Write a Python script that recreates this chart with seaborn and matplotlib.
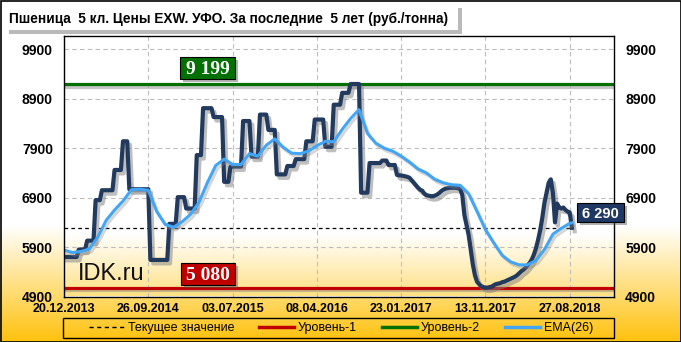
import numpy as np
import pandas as pd
import matplotlib
matplotlib.use("Agg")
import matplotlib.pyplot as plt
import matplotlib.patheffects as pe
from matplotlib.patches import Rectangle
from matplotlib.lines import Line2D
import seaborn as sns

# ---------------- data ----------------
tick_dates = ["20.12.2013", "26.09.2014", "03.07.2015", "08.04.2016",
              "23.01.2017", "13.11.2017", "27.08.2018"]
y_ticks = [4900, 5900, 6900, 7900, 8900, 9900]

price = [
    5700, 5700, 5700, 5700, 5700, 5700, 5700,
    5850, 5850, 5850, 5850, 6030, 6030, 6030, 6030,
    6850, 6850, 6850, 7050, 7050, 7050, 7050, 7050, 7050,
    7460, 7460, 7460, 7460, 8040, 8040, 8040,
    7070, 7070, 7070, 7070, 7070, 7070, 7070, 7070, 7070, 7070,
    5640, 5640, 5640, 5640, 5640, 5640, 5640, 5640, 5640,
    6370, 6370, 6370, 6370, 6910, 6910, 6910, 6910,
    6680, 6680, 6680, 6680, 6680, 7760, 7760, 7760,
    8710, 8710, 8710, 8710, 8710, 8530, 8530, 8530, 8530, 8530,
    7220, 7220, 7220, 7530, 7530, 7530, 7530, 7530, 7530,
    8450, 8450, 8450, 8450, 7730, 7730, 7730, 7730,
    8580, 8580, 8580, 8580, 8270, 8270, 8270, 8270,
    7370, 7370, 7370, 7370, 7370, 7540, 7540, 7540, 7540,
    7680, 7680, 7680, 7680, 7680, 8040, 8040, 8040, 8040,
    8480, 8480, 8480, 8480, 8480, 7930, 7930, 7930, 7930,
    8780, 8780, 8780, 8780, 9020, 9020, 9020, 9020,
    9199, 9199, 9199, 9199, 9199, 7000, 7000, 7000, 7000,
    7600, 7600, 7600, 7600, 7600, 7600, 7650, 7650, 7650, 7560, 7560, 7560, 7560,
    7360, 7350, 7350, 7340, 7330, 7320, 7300, 7250,
    7200, 7150, 7100, 7060, 7040,
    6980, 6950, 6940, 6930, 6930, 6940, 6960, 6990,
    7030, 7060, 7080, 7090, 7100, 7100, 7100, 7100, 7090, 7080,
    6950, 6550, 6350, 6150, 5850, 5550, 5330, 5200, 5150, 5110, 5090, 5080,
    5080, 5090, 5100, 5130, 5150, 5160, 5170, 5190, 5200, 5220,
    5240, 5260, 5280, 5300, 5330, 5370, 5410, 5440, 5480, 5530,
    5580, 5650, 5750, 5880, 6050, 6250, 6500, 6800, 7000, 7200,
    7270, 7000, 6400, 6780, 6700, 6680, 6700, 6650, 6620, 6600,
    6290,
]

ema_pos = list(range(0, 241, 4)) + [241]
ema = [
    5840, 5790, 5810, 5860, 6100, 6440, 6650, 6830, 7060, 7070,
    7050, 6620, 6360, 6300, 6410, 6560, 6800, 7200, 7550, 7680,
    7570, 7570, 7790, 7740, 7960, 8090, 7920, 7800, 7790, 7840,
    7950, 8040, 8030, 8280, 8500, 8680, 8200, 8000, 7900, 7840,
    7740, 7620, 7480, 7400, 7270, 7200, 7160, 7150, 6980, 6620,
    6250, 5980, 5730, 5600, 5540, 5540, 5630, 5850, 6160, 6280,
    6380, 6390,
]

level1 = 5080
level2 = 9199
current = 6290

title = "Пшеница  5 кл. Цены EXW. УФО. За последние  5 лет (руб./тонна)"
legend_labels = ["Текущее значение", "Уровень-1", "Уровень-2", "EMA(26)"]

# ---------------- figure ----------------
W, H = 681, 342
fig = plt.figure(figsize=(W / 100, H / 100), dpi=100)

SANS = ["Liberation Sans", "DejaVu Sans"]
SERIF = ["Liberation Serif", "DejaVu Serif"]

# figure background gradient (white -> orange at bottom)
bg = fig.add_axes([0, 0, 1, 1], zorder=-5)
bg.axis("off")
frac = np.linspace(1, 0, H)
t = np.clip((0.34 - frac) / 0.34, 0, 1)
white = np.array([1.0, 1.0, 1.0])
orange = np.array([1.0, 0.76, 0.05])
img = white[None, :] * (1 - t[:, None]) + orange[None, :] * t[:, None]
bg.imshow(img[:, None, :], aspect="auto", extent=[0, 1, 0, 1])
bg.set_xlim(0, 1)
bg.set_ylim(0, 1)

x0p, x1p, y0p, y1p = 64, 614, 36, 296.5
ax = fig.add_axes([x0p / W, 1 - y1p / H, (x1p - x0p) / W, (y1p - y0p) / H])

XMAX = 261
YMIN, YMAX = 4900, 10170

# plot-area gradient
vals = np.linspace(YMAX, YMIN, 300)
tt = np.clip((6150 - vals) / 1250, 0, 1)
low = np.array([1.0, 0.88, 0.52])
pimg = white[None, :] * (1 - tt[:, None]) + low[None, :] * tt[:, None]
ax.imshow(pimg[:, None, :], aspect="auto", extent=[0, XMAX, YMIN, YMAX], zorder=0)

ax.grid(True, color="#BDBDBD", linestyle=(0, (4, 3)), linewidth=0.8)
ax.set_axisbelow(True)

shadow = [pe.SimpleLineShadow(offset=(1.5, -2), shadow_color="#808080", alpha=0.45), pe.Normal()]

ax.axhline(level2, color="#007000", lw=2.3, zorder=3, path_effects=shadow)
ax.axhline(level1, color="#C00000", lw=2.3, zorder=3, path_effects=shadow)
ax.hlines(current, 0, len(price) - 1, colors="black", linestyles=(0, (3, 2.5)), lw=0.9, zorder=3)

df = pd.DataFrame({"idx": np.arange(len(price)), "price": price})
sns.lineplot(data=df, x="idx", y="price", ax=ax, color="#213A5E", linewidth=3.0,
             zorder=5, legend=False)
ax.lines[-1].set_path_effects([pe.SimpleLineShadow(offset=(2, -2.5), shadow_color="#7F7F7F", alpha=0.5),
                               pe.Normal()])
ax.lines[-1].set_solid_joinstyle("round")

dfe = pd.DataFrame({"idx": ema_pos, "ema": ema})
sns.lineplot(data=dfe, x="idx", y="ema", ax=ax, color="#42A5F5", linewidth=2.2,
             zorder=6, legend=False)
ax.lines[-1].set_path_effects([pe.SimpleLineShadow(offset=(1.5, -2), shadow_color="#8A8A8A", alpha=0.35),
                               pe.Normal()])

ax.set_xlim(0, XMAX)
ax.set_ylim(YMIN, YMAX)
ax.set_xticks(list(range(0, 241, 40)))
ax.set_xticklabels(tick_dates)
ax.set_yticks(y_ticks)
ax.set_yticklabels([str(v) for v in y_ticks])
ax.set_xlabel("")
ax.set_ylabel("")
ax.tick_params(axis="both", length=0, colors="black")
ax.tick_params(axis="y", labelright=True, pad=8)
ax.tick_params(axis="x", pad=5)
for lbl in ax.get_xticklabels():
    lbl.set_fontfamily(SANS)
    lbl.set_fontweight("bold")
    lbl.set_fontsize(9)
for tk in ax.yaxis.get_major_ticks():
    for lb in (tk.label1, tk.label2):
        lb.set_fontfamily(SANS)
        lb.set_fontweight("bold")
        lb.set_fontsize(10)
for sp in ax.spines.values():
    sp.set_color("black")
    sp.set_linewidth(1.0)
    sp.set_zorder(10)

# IDK.ru watermark
ax.text(6.5, 5230, "IDK.ru", fontsize=17, family=SANS, color="#111111", zorder=7, va="baseline")


def fig_rect(px0, py0, px1, py1, **kw):
    r = Rectangle((px0 / W, 1 - py1 / H), (px1 - px0) / W, (py1 - py0) / H,
                  transform=fig.transFigure, **kw)
    fig.add_artist(r)
    return r


def value_box(px0, py0, px1, py1, txt, fc, family, size):
    fig_rect(px0 + 3, py0 + 3, px1 + 3, py1 + 3, facecolor="#555555", alpha=0.45,
             edgecolor="none", zorder=20)
    fig_rect(px0, py0, px1, py1, facecolor=fc, edgecolor="black", lw=0.8, zorder=21)
    fig.text((px0 + px1) / 2 / W, 1 - (py0 + py1) / 2 / H, txt, color="white",
             fontsize=size, fontweight="bold", family=family, ha="center", va="center_baseline",
             zorder=22)


value_box(180, 57, 235, 79, "9 199", "#007000", SERIF, 14)
value_box(181, 263, 235, 285, "5 080", "#C00000", SERIF, 14)
value_box(577, 203, 624, 222, "6 290", "#1F3864", SANS, 10.5)

# title box
fig_rect(9, 8, 462, 34, facecolor="#8C8C8C", alpha=0.6, edgecolor="none", zorder=20)
fig_rect(5, 4, 458, 30, facecolor="white", edgecolor="none", zorder=21)
fig.text(9 / W, 1 - 17.5 / H, title, fontsize=9.8, fontweight="bold", family=SANS,
         ha="left", va="center_baseline", zorder=22)

# legend
fig_rect(63, 318, 614, 338, facecolor="none", edgecolor="black", lw=1.0, zorder=20)
handles = [
    Line2D([], [], color="black", lw=1.0, linestyle=(0, (3, 2.5))),
    Line2D([], [], color="#C00000", lw=2.5),
    Line2D([], [], color="#007000", lw=2.5),
    Line2D([], [], color="#42A5F5", lw=2.5),
]
leg = fig.legend(handles, legend_labels, loc="center", bbox_to_anchor=(341 / W, 1 - 328 / H),
                 ncol=4, frameon=False, prop={"family": SANS, "size": 9},
                 handlelength=2.8, handletextpad=0.3, columnspacing=2.0, borderpad=0)
leg.set_zorder(21)

# outer border
fig_rect(0.5, 0.5, W - 0.5, H - 0.5, facecolor="none", edgecolor="black", lw=1.2, zorder=30)

fig.savefig("out.png", dpi=100)
